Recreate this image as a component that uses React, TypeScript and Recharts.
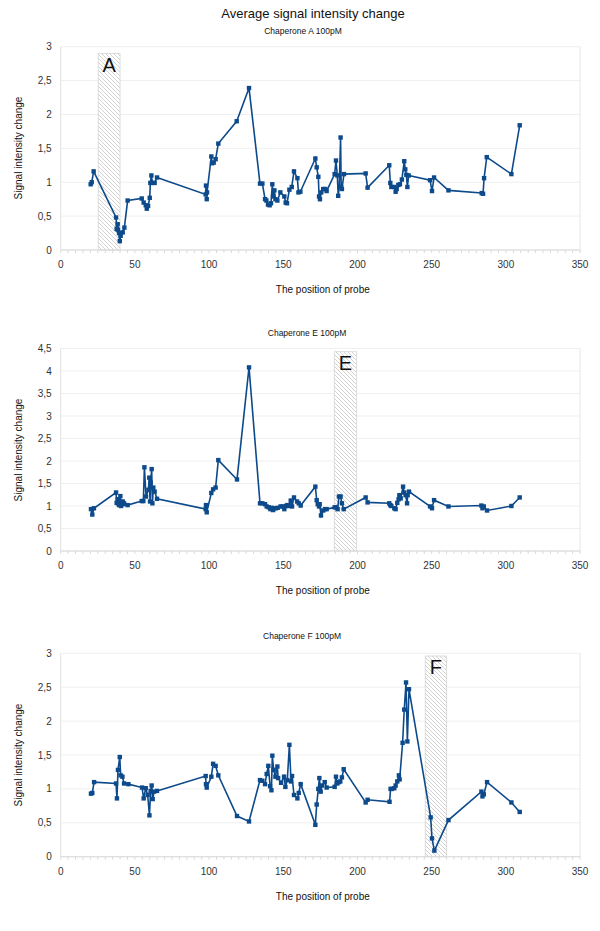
import React from 'react';
import { LineChart, Line, XAxis, YAxis, CartesianGrid, ReferenceArea, ReferenceLine } from 'recharts';

const COLOR = '#0d4a8b';
const FONT = '"Liberation Sans", Arial, sans-serif';

const mainTitle = 'Average signal intensity change';
const xTitle = 'The position of probe';
const yTitle = 'Signal intensity change';

const xTicks: number[] = [];
for (let v = 0; v <= 350; v += 5) xTicks.push(v);
const yTicks3 = [0, 0.5, 1, 1.5, 2, 2.5, 3];
const yTicks45 = [0, 0.5, 1, 1.5, 2, 2.5, 3, 3.5, 4, 4.5];

const posA = [20.2, 20.9, 22.2, 37.3, 37.7, 38.4, 38.6, 39.3, 39.8, 40.4, 41.8, 42.9, 45.1, 54.6, 55.9, 57.3, 58.0, 58.9, 60.0, 60.4, 61.1, 61.8, 63.3, 64.9, 97.7, 97.9, 98.4, 98.6, 101.5, 102.0, 103.1, 104.4, 106.2, 118.6, 126.9, 134.3, 135.9, 137.7, 138.6, 139.7, 140.8, 141.7, 142.6, 143.1, 144.0, 144.7, 146.0, 148.0, 150.7, 151.6, 152.5, 154.1, 155.7, 157.2, 159.5, 160.2, 161.5, 171.6, 172.5, 173.6, 174.1, 174.7, 175.6, 176.9, 178.3, 179.2, 184.6, 185.5, 186.4, 187.0, 187.7, 188.6, 189.0, 189.5, 190.9, 205.5, 206.8, 221.4, 222.1, 222.8, 224.6, 225.7, 226.4, 227.5, 228.6, 229.9, 231.5, 232.2, 232.9, 233.6, 234.5, 248.9, 250.2, 251.6, 261.3, 283.7, 284.6, 285.3, 287.1, 303.7, 309.3];
const valsA = [0.97, 1.0, 1.16, 0.48, 0.31, 0.38, 0.30, 0.25, 0.13, 0.21, 0.26, 0.33, 0.73, 0.76, 0.70, 0.66, 0.61, 0.65, 0.77, 0.99, 1.10, 0.99, 0.99, 1.07, 0.82, 0.95, 0.75, 0.85, 1.38, 1.28, 1.29, 1.34, 1.57, 1.90, 2.39, 0.98, 0.98, 0.75, 0.73, 0.67, 0.66, 0.69, 0.97, 0.79, 0.88, 0.75, 0.73, 0.85, 0.79, 0.70, 0.69, 0.89, 0.93, 1.16, 1.06, 0.85, 0.86, 1.35, 1.22, 1.08, 0.79, 0.75, 0.85, 0.90, 0.90, 0.87, 1.12, 1.32, 1.10, 0.80, 0.93, 1.66, 0.93, 0.90, 1.12, 1.13, 0.92, 1.25, 0.99, 0.93, 0.93, 0.86, 0.90, 0.96, 0.97, 1.04, 1.31, 1.19, 1.11, 0.93, 1.10, 1.03, 0.87, 1.07, 0.88, 0.84, 0.83, 1.06, 1.37, 1.12, 1.84];

const posE = [20.4, 21.3, 22.4, 37.3, 37.7, 38.4, 38.6, 39.3, 40.2, 40.7, 41.3, 41.8, 42.2, 42.7, 45.1, 54.6, 55.7, 56.4, 57.5, 59.1, 59.7, 60.2, 60.6, 61.3, 61.8, 62.4, 63.3, 64.9, 97.7, 97.9, 98.4, 101.5, 102.7, 104.4, 106.2, 118.8, 126.9, 134.3, 135.9, 137.7, 138.8, 140.2, 141.3, 142.2, 143.1, 144.0, 145.1, 146.2, 148.2, 149.6, 150.7, 151.8, 152.7, 153.6, 155.0, 155.9, 157.2, 159.3, 160.4, 161.7, 171.6, 172.5, 173.2, 174.1, 174.5, 175.4, 176.9, 178.1, 179.2, 184.6, 185.7, 186.6, 187.5, 188.6, 189.5, 190.7, 205.5, 206.8, 221.4, 222.1, 222.8, 224.8, 225.7, 226.8, 227.7, 228.2, 229.1, 230.7, 231.5, 232.4, 233.4, 233.8, 234.7, 248.9, 250.2, 251.6, 261.3, 283.5, 284.2, 285.1, 287.3, 303.7, 309.3];
const valsE = [0.93, 0.81, 0.95, 1.30, 1.07, 1.15, 1.06, 1.02, 1.22, 1.00, 1.06, 1.10, 1.04, 1.06, 1.02, 1.11, 1.11, 1.86, 1.21, 1.36, 1.63, 1.10, 1.52, 1.82, 1.06, 1.41, 1.32, 1.16, 0.93, 1.02, 0.86, 1.29, 1.37, 1.41, 2.02, 1.59, 4.08, 1.06, 1.06, 1.04, 0.99, 0.97, 0.93, 0.96, 0.91, 0.95, 0.95, 0.96, 0.99, 0.99, 0.93, 1.00, 1.02, 1.00, 1.12, 0.99, 1.19, 1.10, 1.06, 1.01, 1.43, 1.13, 1.04, 0.99, 1.04, 0.79, 0.90, 0.93, 0.93, 0.97, 0.97, 0.93, 1.21, 1.21, 1.06, 0.93, 1.19, 1.08, 1.06, 1.02, 1.00, 0.95, 0.93, 1.07, 1.15, 1.24, 1.17, 1.43, 1.30, 1.24, 1.06, 1.24, 1.32, 0.99, 0.95, 1.13, 0.99, 1.01, 0.95, 0.99, 0.90, 1.00, 1.19];

const posF = [20.4, 21.3, 22.5, 37.3, 37.9, 38.6, 39.8, 40.4, 41.6, 42.7, 45.6, 54.8, 55.9, 57.3, 58.6, 59.8, 60.6, 61.3, 62.0, 62.9, 64.9, 97.7, 97.9, 98.4, 101.5, 102.7, 104.4, 106.2, 118.8, 126.9, 134.3, 135.9, 137.7, 138.8, 139.9, 141.1, 142.0, 142.6, 143.5, 144.7, 146.0, 146.5, 148.5, 150.5, 151.4, 152.7, 154.1, 155.2, 155.9, 157.2, 159.5, 160.4, 161.7, 171.6, 172.5, 173.6, 174.3, 175.2, 176.1, 177.9, 179.2, 184.6, 185.5, 186.4, 187.5, 188.4, 189.5, 190.7, 205.5, 206.8, 221.6, 222.3, 223.2, 224.8, 225.7, 226.8, 227.9, 228.4, 230.4, 231.5, 232.7, 233.6, 234.7, 249.3, 250.2, 251.8, 261.3, 283.5, 284.2, 285.1, 287.3, 303.7, 309.3];
const valsF = [0.93, 0.94, 1.10, 1.08, 0.86, 1.28, 1.47, 1.20, 1.18, 1.08, 1.07, 1.02, 0.86, 1.01, 0.91, 0.61, 0.97, 1.05, 0.85, 0.96, 0.97, 1.19, 1.07, 1.02, 1.18, 1.37, 1.34, 1.20, 0.60, 0.52, 1.13, 1.12, 1.07, 1.22, 1.34, 1.04, 0.98, 1.49, 1.28, 1.18, 1.33, 1.16, 1.09, 1.18, 1.03, 1.13, 1.65, 1.11, 1.19, 0.91, 0.86, 0.94, 1.07, 0.47, 0.77, 1.00, 1.16, 0.96, 1.05, 1.10, 1.02, 1.03, 1.18, 1.08, 1.10, 1.11, 1.17, 1.29, 0.80, 0.84, 0.81, 1.00, 1.00, 1.01, 1.05, 1.11, 1.20, 1.14, 1.68, 2.17, 2.57, 1.70, 2.47, 0.58, 0.27, 0.09, 0.54, 0.96, 0.89, 0.92, 1.10, 0.80, 0.66];

const zoneA = { label: 'A', from: 25.3, to: 40, top: 2.9 };
const zoneE = { label: 'E', from: 184.4, to: 199.4, top: 4.43 };
const zoneF = { label: 'F', from: 245.7, to: 260, top: 2.96 };

const comma = (v: number) => String(v).replace('.', ',');

const SquareDot = (props: any) => {
  const { cx, cy, index } = props;
  if (cx == null || cy == null) return <g key={`n${index}`} />;
  return <rect key={`d${index}`} x={cx - 2.2} y={cy - 2.2} width={4.4} height={4.4} fill={COLOR} />;
};

type PanelProps = {
  id: string;
  top: number;
  marginTop: number;
  marginBottom: number;
  subtitle: string;
  subX: number;
  subY: number;
  pos: number[];
  vals: number[];
  yMax: number;
  yTicks: number[];
  zone: { label: string; from: number; to: number; top: number };
  xTitleY: number;
  yTitleY: number;
};

const Panel = (p: PanelProps) => {
  const data = p.pos.map((x, i) => ({ x, y: p.vals[i] }));
  const H = 300;
  return (
    <>
      <div style={{ position: 'absolute', left: p.subX - 150, top: p.subY - 6, width: 300, lineHeight: '12px', fontSize: 8.5, textAlign: 'center', color: '#111', fontFamily: FONT }}>
        {p.subtitle}
      </div>
      <div style={{ position: 'absolute', left: 0, top: p.top, width: 600, height: H }}>
        <LineChart width={600} height={H} data={data} margin={{ top: p.marginTop, right: 19.9, left: 20.7, bottom: p.marginBottom }} style={{ fontFamily: FONT }}>
          <defs>
            <pattern id={`hatch-${p.id}`} patternUnits="userSpaceOnUse" width={4} height={4}>
              <rect width={4} height={4} fill="#ffffff" />
              <path d="M-1,-1 L5,5 M3,-1 L5,1 M-1,3 L1,5" stroke="#b4b4b4" strokeWidth={0.6} />
            </pattern>
          </defs>
          <CartesianGrid vertical={false} stroke="#efefef" />
          <XAxis
            type="number"
            dataKey="x"
            domain={[0, 350]}
            ticks={xTicks}
            interval={0}
            allowDataOverflow
            tickFormatter={(v: number) => (v % 50 === 0 ? String(v) : '')}
            tickSize={3}
            tickMargin={8}
            height={30}
            axisLine={{ stroke: '#d9d9d9' }}
            tickLine={{ stroke: '#d9d9d9' }}
            tick={{ fontSize: 10, fill: '#333' }}
          />
          <YAxis
            type="number"
            domain={[0, p.yMax]}
            ticks={p.yTicks}
            interval={0}
            allowDataOverflow
            width={40}
            tickFormatter={comma}
            tickLine={false}
            tickSize={0}
            tickMargin={9}
            axisLine={{ stroke: '#e2e2e2' }}
            tick={{ fontSize: 10, fill: '#333' }}
          />
          <ReferenceLine x={350} stroke="#e6e6e6" />
          <ReferenceArea
            x1={p.zone.from}
            x2={p.zone.to}
            y1={0}
            y2={p.zone.top}
            fill={`url(#hatch-${p.id})`}
            fillOpacity={1}
            stroke="#d4d4d4"
            strokeWidth={0.8}
            label={{ value: p.zone.label, position: 'insideTop', fontSize: 20, fill: '#111', offset: 4 }}
          />
          <Line
            type="linear"
            dataKey="y"
            stroke={COLOR}
            strokeWidth={1.6}
            dot={SquareDot}
            activeDot={false}
            isAnimationActive={false}
          />
        </LineChart>
      </div>
      <div style={{ position: 'absolute', left: 322.8 - 150, top: p.xTitleY - 7, width: 300, lineHeight: '14px', fontSize: 10, textAlign: 'center', color: '#111', fontFamily: FONT }}>
        {xTitle}
      </div>
      <div style={{ position: 'absolute', left: 19 - 100, top: p.yTitleY - 7, width: 200, height: 14, lineHeight: '14px', fontSize: 10, textAlign: 'center', color: '#111', fontFamily: FONT, transform: 'rotate(-90deg)' }}>
        {yTitle}
      </div>
    </>
  );
};

export default function App() {
  return (
    <div style={{ position: 'absolute', left: 0, top: 0, width: 600, height: 931, background: '#fff', overflow: 'hidden' }}>
      <div style={{ position: 'absolute', left: 313 - 200, top: 14.3 - 8, width: 400, lineHeight: '16px', fontSize: 13, textAlign: 'center', color: '#111', fontFamily: FONT }}>
        {mainTitle}
      </div>
      <Panel id="a" top={0} marginTop={46.7} marginBottom={20} subtitle="Chaperone A 100pM" subX={303} subY={30.7} pos={posA} vals={valsA} yMax={3} yTicks={yTicks3} zone={zoneA} xTitleY={290} yTitleY={148} />
      <Panel id="e" top={300} marginTop={48.5} marginBottom={19} subtitle="Chaperone E 100pM" subX={307} subY={332.7} pos={posE} vals={valsE} yMax={4.5} yTicks={yTicks45} zone={zoneE} xTitleY={591} yTitleY={450} />
      <Panel id="f" top={600} marginTop={53.3} marginBottom={13.3} subtitle="Chaperone F 100pM" subX={302} subY={636} pos={posF} vals={valsF} yMax={3} yTicks={yTicks3} zone={zoneF} xTitleY={897} yTitleY={755} />
    </div>
  );
}
